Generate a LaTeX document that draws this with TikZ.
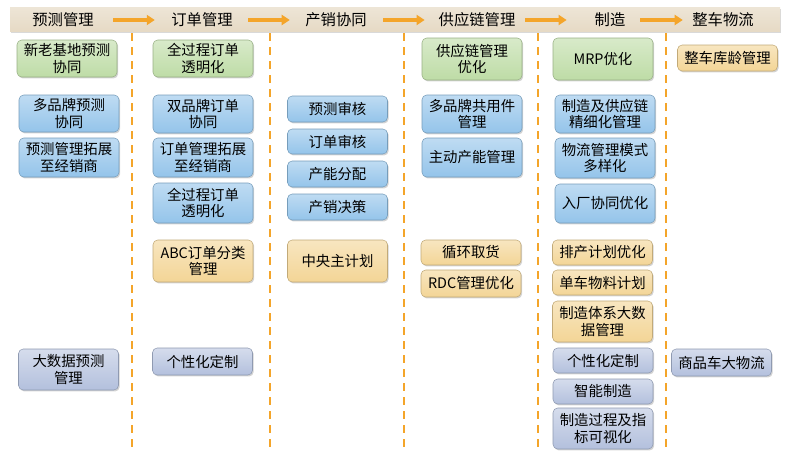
\documentclass[tikz,border=0pt]{standalone}
\usepackage{fontspec}
\setmainfont{Noto Sans CJK SC}
\usepackage{tikz}
\usetikzlibrary{arrows.meta, shadows, positioning}
\usepackage{xcolor}
\definecolor{hdrtan}{HTML}{E6DAC5}
\definecolor{flowor}{HTML}{F4A52A}
\definecolor{cardgreen}{HTML}{BEDCA6}
\definecolor{cardblue}{HTML}{94C4EA}
\definecolor{cardgold}{HTML}{F3D596}
\definecolor{cardgrey}{HTML}{B3C0DD}

\begin{document}
\begin{tikzpicture}[x=0.75pt,y=-0.75pt,
    card/.style={rounded corners=3.5pt, minimum width=75pt, inner sep=0pt,
      align=center, font=\fontsize{10.8}{12.4}\selectfont,
      drop shadow={shadow xshift=0.9pt, shadow yshift=-1.1pt, opacity=0.35}},
    greencard/.style={card, draw=cardgreen!80!black, top color=cardgreen!60!white, bottom color=cardgreen},
    bluecard/.style={card, draw=cardblue!80!black, top color=cardblue!60!white, bottom color=cardblue},
    goldcard/.style={card, draw=cardgold!80!black, top color=cardgold!60!white, bottom color=cardgold},
    greycard/.style={card, draw=cardgrey!80!black, top color=cardgrey!55!white, bottom color=cardgrey},
    hdr/.style={inner sep=0pt, font=\fontsize{11.5}{13}\selectfont},
    flow/.style={line width=2.3pt, flowor, -{Triangle[length=6pt,width=7.5pt]}},
    lane/.style={line width=1.8pt, flowor, dash pattern=on 6pt off 4.5pt}]
  \useasboundingbox (0,0) rectangle (789,471);

  % header band with the six stages
  \fill[top color=hdrtan!70!white, bottom color=hdrtan,
    drop shadow={shadow xshift=0.8pt, shadow yshift=-1.2pt, opacity=0.3}] (10,7) rectangle (780,31);
  \node[hdr] (h1) at (63,20) {预测管理};
  \node[hdr] (h2) at (202,20) {订单管理};
  \node[hdr] (h3) at (336,20) {产销协同};
  \node[hdr] (h4) at (477,20) {供应链管理};
  \node[hdr] (h5) at (610,20) {制造};
  \node[hdr] (h6) at (723,20) {整车物流};
  \draw[flow, shorten <=14.5pt, shorten >=12.2pt] (h1) -- (h2);
  \draw[flow, shorten <=11.5pt, shorten >=11.5pt] (h2) -- (h3);
  \draw[flow, shorten <=12.2pt, shorten >=10.3pt] (h3) -- (h4);
  \draw[flow, shorten <=7.3pt, shorten >=20.8pt] (h4) -- (h5);
  \draw[flow, shorten <=11pt, shorten >=7pt] (h5) -- (h6);

  % dashed lane separators
  \foreach \x in {132,270,404,538,666}
    \draw[lane] (\x,33) -- (\x,453);

  % forecast
  \node[greencard, minimum height=27.75pt] (fc1) at (67,58.5) {新老基地预测\\协同};
  \node[bluecard, minimum height=27.75pt] (fc2) at (69,113.5) {多品牌预测\\协同};
  \node[bluecard, minimum height=29.25pt] (fc3) at (69,157.5) {预测管理拓展\\至经销商};
  \node[greycard, minimum height=30.75pt] (fc4) at (68.5,369.5) {大数据预测\\管理};

  % orders
  \node[greencard, minimum height=27.75pt] (od1) at (203,58.5) {全过程订单\\透明化};
  \node[bluecard, minimum height=28.5pt] (od2) at (203,114) {双品牌订单\\协同};
  \node[bluecard, minimum height=29.25pt] (od3) at (203,157.5) {订单管理拓展\\至经销商};
  \node[bluecard, minimum height=30pt] (od4) at (203,203) {全过程订单\\透明化};
  \node[goldcard, minimum height=31.5pt] (od5) at (203,261) {ABC订单分类\\管理};
  \node[greycard, minimum height=20.25pt] (od6) at (202.5,361.5) {个性化定制};

  % production and sales
  \node[bluecard, minimum height=19.5pt] (ps1) at (337.5,109) {预测审核};
  \node[bluecard, minimum height=18.75pt] (ps2) at (337.5,141.5) {订单审核};
  \node[bluecard, minimum height=19.5pt] (ps3) at (337.5,174) {产能分配};
  \node[bluecard, minimum height=19.5pt] (ps4) at (337.5,207) {产销决策};
  \node[goldcard, minimum height=31.5pt] (ps5) at (337.5,261) {中央主计划};

  % supply chain
  \node[greencard, minimum height=31.5pt] (sc1) at (472,59) {供应链管理\\优化};
  \node[bluecard, minimum height=28.5pt] (sc2) at (472,114) {多品牌共用件\\管理};
  \node[bluecard, minimum height=29.25pt] (sc3) at (472,157.5) {主动产能管理};
  \node[goldcard, minimum height=18.75pt] (sc4) at (471,252.5) {循环取货};
  \node[goldcard, minimum height=20.25pt] (sc5) at (471,283.5) {RDC管理优化};

  % manufacturing
  \node[greencard, minimum height=31.5pt] (mf1) at (603,59) {MRP优化};
  \node[bluecard, minimum height=28.5pt] (mf2) at (605,114) {制造及供应链\\精细化管理};
  \node[bluecard, minimum height=30pt] (mf3) at (605,158) {物流管理模式\\多样化};
  \node[bluecard, minimum height=29.25pt] (mf4) at (605,203.5) {入厂协同优化};
  \node[goldcard, minimum height=18.75pt] (mf5) at (602.5,252.5) {排产计划优化};
  \node[goldcard, minimum height=18.75pt] (mf6) at (602.5,282.5) {单车物料计划};
  \node[goldcard, minimum height=30.75pt] (mf7) at (602.5,321.5) {制造体系大数\\据管理};
  \node[greycard, minimum height=18.75pt] (mf8) at (603,360.5) {个性化定制};
  \node[greycard, minimum height=18.75pt] (mf9) at (603,391.5) {智能制造};
  \node[greycard, minimum height=30.75pt] (mf10) at (603,428.5) {制造过程及指\\标可视化};

  % vehicle logistics
  \node[goldcard, minimum height=19.5pt] (vl1) at (727.5,58) {整车库龄管理};
  \node[greycard, minimum height=20.25pt] (vl2) at (721.5,362.5) {商品车大物流};
\end{tikzpicture}
\end{document}
